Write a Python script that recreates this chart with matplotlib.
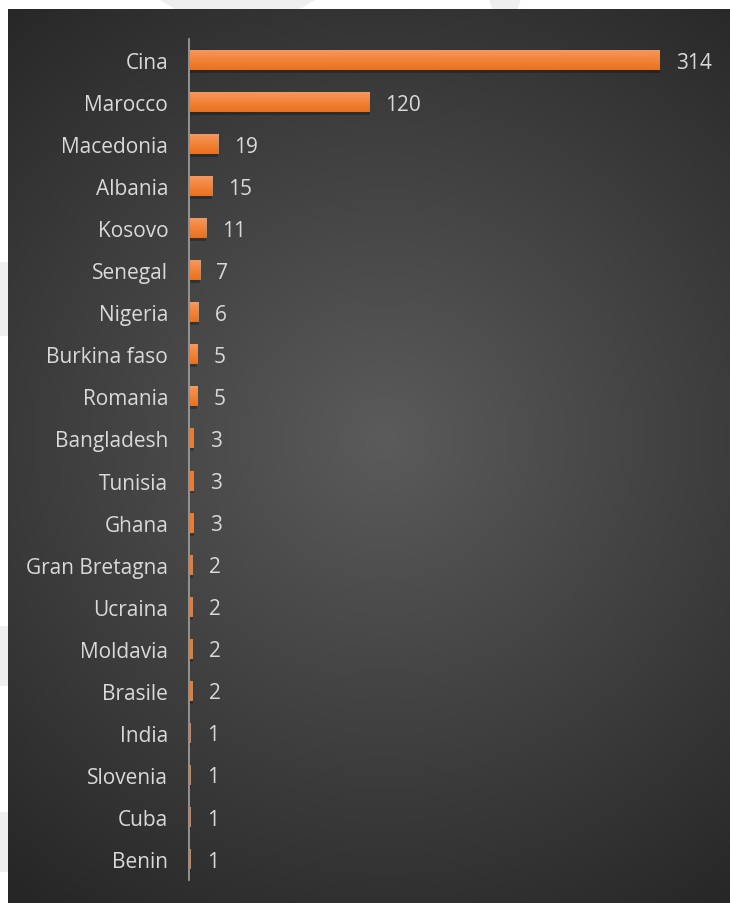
import numpy as np
import matplotlib
matplotlib.use("Agg")
import matplotlib.pyplot as plt
from matplotlib.colors import LinearSegmentedColormap
from matplotlib.patches import Rectangle, Polygon

plt.rcParams['font.family'] = ['Open Sans', 'DejaVu Sans']

countries = ["Cina", "Marocco", "Macedonia", "Albania", "Kosovo", "Senegal",
             "Nigeria", "Burkina faso", "Romania", "Bangladesh", "Tunisia",
             "Ghana", "Gran Bretagna", "Ucraina", "Moldavia", "Brasile",
             "India", "Slovenia", "Cuba", "Benin"]
values = [314, 120, 19, 15, 11, 7, 6, 5, 5, 3, 3, 3, 2, 2, 2, 2, 1, 1, 1, 1]

W, H = 730, 904
fig = plt.figure(figsize=(W / 100, H / 100), dpi=100)
fig.patch.set_facecolor("white")

# background layer (figure pixel coords)
bg = fig.add_axes([0, 0, 1, 1])
bg.set_xlim(0, W)
bg.set_ylim(H, 0)
bg.axis("off")
wm = "#efefef"
bg.add_patch(Polygon([[158, 0], [317, 0], [300, 10], [175, 10]], color=wm, lw=0))
bg.add_patch(Polygon([[489, 0], [521, 0], [518, 10], [492, 10]], color=wm, lw=0))
for y0, y1 in [(263, 337), (627, 687), (813, 873)]:
    bg.add_patch(Rectangle((0, y0), 8, y1 - y0, color=wm, lw=0))

# radial gradient panel
px0, px1, py0, py1 = 8, 730, 10, 904
xs = np.linspace(px0, px1, 400)
ys = np.linspace(py0, py1, 500)
X, Y = np.meshgrid(xs, ys)
cx, cy = 385, 440
r = np.sqrt(((X - cx) / 600.0) ** 2 + ((Y - cy) / 580.0) ** 2)
r = np.clip(r, 0, 1)
c_in = np.array([0x5b, 0x5b, 0x5b]) / 255
c_out = np.array([0x26, 0x26, 0x26]) / 255
img = c_in[None, None, :] * (1 - r[..., None]) + c_out[None, None, :] * r[..., None]
bg.imshow(img, extent=[px0, px1, py1, py0], aspect="auto", interpolation="bilinear", zorder=1)

# main axes
left_px, right_px, top_px, bot_px = 189, 700, 40, 881
ax = fig.add_axes([left_px / W, 1 - bot_px / H, (right_px - left_px) / W, (bot_px - top_px) / H])
ax.patch.set_alpha(0)
scale = (659 - 189) / 314.0
ax.set_xlim(0, (right_px - left_px) / scale)
n = len(countries)
ax.set_ylim(n - 0.5, -0.5)

ypos = np.arange(n)
bh = 0.476
# shadows
ax.barh(ypos + 0.07, values, height=bh, left=0.6, color="black", alpha=0.25, lw=0, zorder=2)
bars = ax.barh(ypos, values, height=bh, left=0.4, color="#ef7a2c", lw=0, zorder=3)

grad = np.linspace(0, 1, 64)[:, None]
cmap = LinearSegmentedColormap.from_list("o", ["#f59a62", "#f2843a", "#e8711f"])
for b, v in zip(bars, values):
    if v < 4:
        continue
    x0, y0 = b.get_x(), b.get_y()
    w, h = b.get_width(), b.get_height()
    im = ax.imshow(grad, cmap=cmap, extent=[x0, x0 + w, y0 + h, y0], aspect="auto",
                   interpolation="bilinear", zorder=4)
    im.set_clip_path(b)

ax.set_yticks(ypos)
ax.set_yticklabels(countries, fontsize=15, color="#d9d9d9")
ax.tick_params(axis="y", length=0, pad=15)
ax.set_xticks([])
for s in ["top", "right", "bottom"]:
    ax.spines[s].set_visible(False)
ax.spines["left"].set_color("#9a9a9a")
ax.spines["left"].set_linewidth(1.3)
ax.spines["left"].set_zorder(2.5)

for yv, v in zip(ypos, values):
    ax.annotate(str(v), xy=(v, yv), xytext=(12, -1.5), textcoords="offset points",
                va="center", ha="left", fontsize=15, color="#d9d9d9", zorder=6)

fig.savefig("out.png", dpi=100, facecolor=fig.get_facecolor())
